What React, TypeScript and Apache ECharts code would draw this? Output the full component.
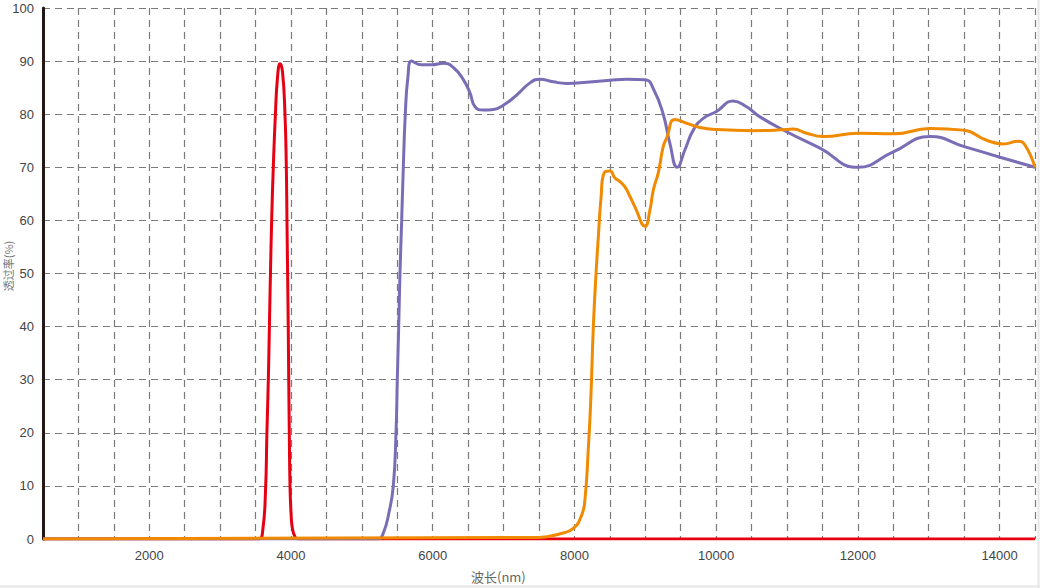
import React, { useEffect, useRef } from "react";
import * as echarts from "echarts";

const xTickLabels = [2000, 4000, 6000, 8000, 10000, 12000, 14000];
const yTickLabels = [0, 10, 20, 30, 40, 50, 60, 70, 80, 90, 100];

const redSeries: [number, number][] = [
  [500, 0], [3550, 0], [3600, 1.5], [3640, 9], [3660, 20], [3680, 30], [3695, 40],
  [3710, 50], [3727, 60], [3750, 70], [3780, 80], [3810, 87], [3845, 89.5],
  [3880, 88], [3915, 80], [3934, 70], [3943, 60], [3952, 50], [3961, 40],
  [3968, 30], [3976, 20], [3986, 10], [4000, 5], [4020, 2], [4060, 0.3],
  [4100, 0], [14500, 0],
];

const purpleSeries: [number, number][] = [
  [500, 0], [5230, 0], [5300, 1], [5383, 5], [5444, 10], [5482, 20], [5500, 30],
  [5520, 40], [5538, 50], [5562, 60], [5585, 70], [5613, 80], [5650, 87],
  [5700, 90], [5844, 89.3], [5985, 89.3], [6150, 89.6], [6291, 88.8],
  [6432, 86.5], [6526, 84], [6597, 81.4], [6714, 80.8], [6855, 80.9],
  [6996, 81.7], [7185, 83.6], [7373, 85.9], [7514, 86.6], [7702, 86.1],
  [7890, 85.8], [8173, 86.0], [8502, 86.4], [8737, 86.6], [9000, 86.5],
  [9120, 84.6], [9253, 80], [9347, 74.5], [9450, 70], [9560, 73.3],
  [9677, 77], [9818, 79.2], [10005, 80.5], [10240, 82.5], [10430, 81.4],
  [10618, 79.5], [10995, 76.7], [11465, 73.6], [11997, 70], [12500, 72.9],
  [13018, 75.8], [13502, 73.9], [14006, 71.9], [14500, 70],
];

const orangeSeries: [number, number][] = [
  [500, 0], [7500, 0.3], [7800, 1], [7984, 2], [8102, 4.5], [8149, 7.5],
  [8196, 17], [8230, 26], [8267, 40], [8305, 50], [8338, 57], [8374, 64],
  [8421, 69], [8501, 69.3], [8572, 68], [8643, 67.3], [8713, 66.3],
  [8784, 64.5], [8855, 62.5], [8996, 58.9], [9066, 62], [9113, 65.7],
  [9184, 69], [9253, 73.9], [9302, 75.5], [9418, 79], [9583, 78.3],
  [9771, 77.5], [10005, 77.1], [10523, 76.9], [10995, 77.1], [11089, 77.2],
  [11278, 76.4], [11513, 75.8], [11997, 76.4], [12500, 76.3], [13018, 77.3],
  [13488, 77.0], [13818, 75.1], [14052, 74.4], [14264, 74.9], [14358, 74.2],
  [14500, 70],
];

const FONT = "'Liberation Sans', Arial, sans-serif";

export default function App() {
  const ref = useRef<HTMLDivElement>(null);
  useEffect(() => {
    if (!ref.current) return;
    const chart = echarts.init(ref.current, null, { renderer: "svg" });
    const gridLine = { show: true, lineStyle: { color: "#7a7a7a", width: 1.2, type: [7, 5] as any } };
    const line = (data: [number, number][], color: string) => ({
      type: "line",
      data,
      showSymbol: false,
      smooth: 0.5,
      lineStyle: { color, width: 3 },
      itemStyle: { color },
    });
    chart.setOption({
      animation: false,
      backgroundColor: "#ffffff",
      grid: { left: 43, right: 5, top: 8, bottom: 49, outerBoundsMode: "none", containLabel: false },
      xAxis: {
        type: "value",
        min: 500,
        max: 14500,
        interval: 500,
        axisLine: { show: false },
        axisTick: { show: false },
        splitLine: gridLine,
        axisLabel: {
          color: "#444",
          fontSize: 13,
          fontFamily: FONT,
          margin: 10,
          formatter: (v: number) => (xTickLabels.includes(v) ? String(v) : ""),
        },
      },
      yAxis: {
        type: "value",
        min: 0,
        max: 100,
        interval: 10,
        axisLine: { show: true, lineStyle: { color: "#231815", width: 3 } },
        axisTick: { show: false },
        splitLine: gridLine,
        axisLabel: {
          color: "#444",
          fontSize: 13,
          fontFamily: FONT,
          margin: 9,
          formatter: (v: number) => (yTickLabels.includes(v) ? String(v) : ""),
        },
      },
      graphic: [
        {
          type: "text",
          x: 8,
          y: 266,
          rotation: Math.PI / 2,
          style: {
            text: "透过率(%)",
            fill: "#777",
            font: "11px 'Noto Sans CJK SC', sans-serif",
            align: "center",
            verticalAlign: "middle",
          },
        },
        {
          type: "text",
          left: 471,
          top: 570,
          style: {
            text: "波长(nm)",
            fill: "#666",
            font: "13px 'Noto Sans CJK SC', sans-serif",
          },
        },
        {
          type: "line",
          shape: { x1: 0, y1: 586.5, x2: 1040, y2: 586.5 },
          style: { stroke: "#e6e6e6", lineWidth: 2 },
          silent: true,
        },
        {
          type: "line",
          shape: { x1: 1038.5, y1: 0, x2: 1038.5, y2: 588 },
          style: { stroke: "#e6e6e6", lineWidth: 2 },
          silent: true,
        },
      ],
      series: [
        line(redSeries, "#e60012"),
        line(purpleSeries, "#7b6db5"),
        line(orangeSeries, "#f08a00"),
      ],
    });
    return () => chart.dispose();
  }, []);
  return (
    <div
      ref={ref}
      style={{ position: "fixed", left: 0, top: 0, width: 1040, height: 588 }}
    />
  );
}
